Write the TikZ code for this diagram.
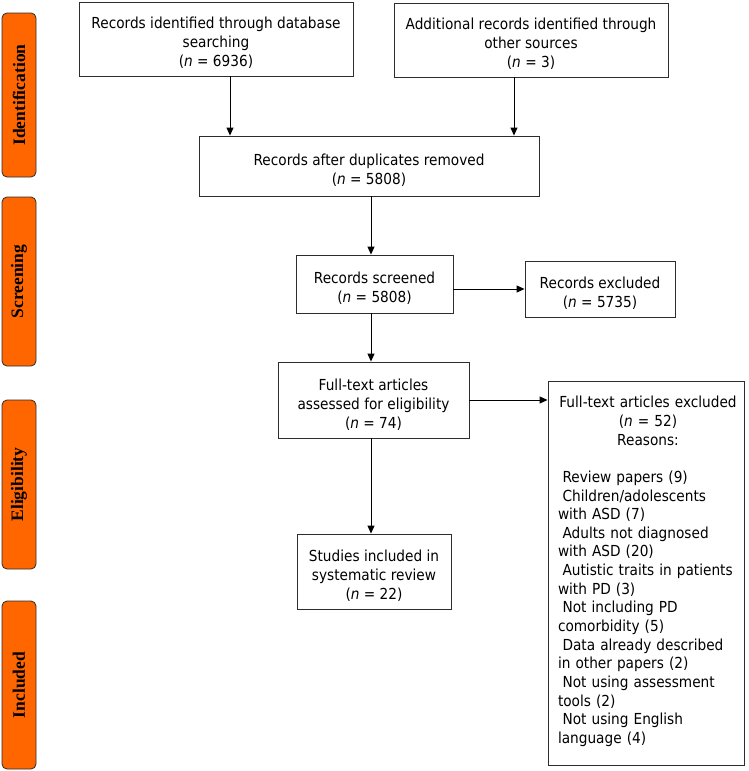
\documentclass[tikz,border=0pt]{standalone}
\usepackage{fontspec}
\setmainfont{DejaVu Sans}[FakeStretch=0.9]
\newfontfamily\phasefont{Liberation Serif}
\usetikzlibrary{arrows.meta}
\definecolor{phaseorange}{RGB}{255,102,0}
\definecolor{edge}{RGB}{45,45,45}
\newcommand\topgap{\rule{0pt}{20pt}}
\begin{document}
\begin{tikzpicture}[x=1pt,y=-1pt,
  txt/.style={font=\fontsize{15.2}{19}\selectfont},
  box/.style={txt, draw=edge, line width=0.9pt, align=center, inner sep=2pt},
  phase/.style={draw=edge, fill=phaseorange, rounded corners=5pt, line width=0.8pt,
    rotate=90, minimum height=34pt, inner sep=0pt,
    font=\phasefont\bfseries\fontsize{17.5}{20}\selectfont},
  arr/.style={draw=black, line width=0.9pt, -{Triangle[length=8pt,width=7pt]}}]
\useasboundingbox (0,0) rectangle (748,771);

% phase labels
\node[phase, minimum width=164pt] (pid) at (19,95) {Identification};
\node[phase, minimum width=169pt] (psc) at (19,281.5) {Screening};
\node[phase, minimum width=169pt] (pel) at (19,484.5) {Eligibility};
\node[phase, minimum width=168pt] (pin) at (19,685) {Included};

% boxes
\node[box, minimum width=274pt, minimum height=74pt] (b1) at (216,39)
  {\topgap Records identified through database\\searching\\(\textit{n} = 6936)};
\node[box, minimum width=274pt, minimum height=74pt] (b2) at (531,40)
  {\topgap Additional records identified through\\other sources\\(\textit{n} = 3)};
\node[box, minimum width=340pt, minimum height=60pt] (b3) at (369,166)
  {\topgap Records after duplicates removed\\(\textit{n} = 5808)};
\node[box, minimum width=157pt, minimum height=58pt] (b4) at (374.5,284)
  {\topgap Records screened\\(\textit{n} = 5808)};
\node[box, minimum width=150pt, minimum height=56pt] (b5) at (600,289)
  {\topgap Records excluded\\(\textit{n} = 5735)};
\node[box, minimum width=191pt, minimum height=76pt] (b6) at (373.5,400)
  {\topgap Full-text articles\\assessed for eligibility\\(\textit{n} = 74)};
\node[box, minimum width=154pt, minimum height=75pt] (b7) at (374,571.5)
  {\topgap Studies included in\\systematic review\\(\textit{n} = 22)};
\node[draw=edge, line width=0.9pt, minimum width=196pt, minimum height=384pt] (b8) at (646,573) {};
\node[font=\fontsize{15.2}{18.65}\selectfont, anchor=north, text width=180pt, inner sep=0pt] (b8t) at (648,396)
  {{\centering Full-text articles excluded\\(\textit{n} = 52)\\Reasons:\par}
   \vspace{18.65pt}
   \raggedright
   \hspace*{0.3em}Review papers (9)\\
   \hspace*{0.3em}Children/adolescents\\
   with ASD (7)\\
   \hspace*{0.3em}Adults not diagnosed\\
   with ASD (20)\\
   \hspace*{0.3em}Autistic traits in patients\\
   with PD (3)\\
   \hspace*{0.3em}Not including PD\\
   comorbidity (5)\\
   \hspace*{0.3em}Data already described\\
   in other papers (2)\\
   \hspace*{0.3em}Not using assessment\\
   tools (2)\\
   \hspace*{0.3em}Not using English\\
   language (4)\par};

% connectors
\draw[arr] ([xshift=14pt]b1.south) -- ([xshift=14pt]b1.south |- b3.north);
\draw[arr] ([xshift=-17pt]b2.south) -- ([xshift=-17pt]b2.south |- b3.north);
\draw[arr] ([xshift=2pt]b3.south) -- ([xshift=2pt]b3.south |- b4.north);
\draw[arr] (b5.west -| b4.east) -- (b5.west);
\draw[arr] ([xshift=-3.5pt]b4.south) -- ([xshift=-3.5pt]b4.south |- b6.north);
\draw[arr] ([xshift=-2.5pt]b6.south) -- ([xshift=-2.5pt]b6.south |- b7.north);
\draw[arr] (b6.east) -- (b6.east -| b8.west);
\end{tikzpicture}
\end{document}
